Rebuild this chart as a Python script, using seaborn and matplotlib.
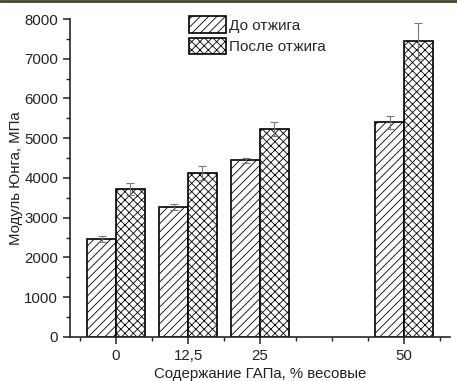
import numpy as np
import pandas as pd
import matplotlib.pyplot as plt
import seaborn as sns
from matplotlib.patches import Patch
from matplotlib.lines import Line2D
from matplotlib.ticker import MultipleLocator

# ─── data ─────────────────────────────────────────────────────────────────────
content = [0, 12.5, 25, 50]
tick_labels = ["0", "12,5", "25", "50"]
groups = ["До отжига", "После отжига"]
before_vals = [2470, 3270, 4440, 5400]
before_err = [80, 80, 70, 170]
after_vals = [3720, 4120, 5230, 7450]
after_err = [160, 170, 180, 450]

sns.set_style("ticks")
plt.rcParams["font.family"] = ["Liberation Sans", "DejaVu Sans"]
plt.rcParams["hatch.linewidth"] = 0.6

df = pd.DataFrame({
    "x": content * 2,
    "y": before_vals + after_vals,
    "err": before_err + after_err,
    "g": [groups[0]] * 4 + [groups[1]] * 4,
})

fig = plt.figure(figsize=(4.57, 3.81), dpi=100)
ax = fig.add_axes([0.153, 0.116, 0.832, 0.834])

sns.barplot(data=df, x="x", y="y", hue="g", hue_order=groups,
            native_scale=True, errorbar=None, ax=ax,
            palette=["white", "white"], edgecolor="black", linewidth=1.2,
            legend=False)

hatches = ["////", "xxxx"]
for cont, h, g in zip(ax.containers, hatches, groups):
    sub = df[df["g"] == g]
    xs, hs = [], []
    for bar in cont:
        bar.set_hatch(h)
        xs.append(bar.get_x() + bar.get_width() / 2)
        hs.append(bar.get_height())
    ax.errorbar(xs, hs, yerr=sub["err"].values, fmt="none", ecolor="#777777",
                elinewidth=0.8, capsize=3, capthick=0.8, zorder=5)

ax.set_xlim(-8, 58)
ax.set_ylim(0, 8000)
ax.set_xticks(content)
ax.set_xticklabels(tick_labels)
ax.xaxis.set_minor_locator(MultipleLocator(6.25))
ax.yaxis.set_major_locator(MultipleLocator(1000))
ax.yaxis.set_minor_locator(MultipleLocator(500))
ax.tick_params(which="major", length=5, width=1.1, labelsize=10.8, colors="#222222")
ax.tick_params(which="minor", length=3, width=1.0)
sns.despine(ax=ax)
for s in ["left", "bottom"]:
    ax.spines[s].set_linewidth(1.2)
ax.set_xlabel("Содержание ГАПа, % весовые", fontsize=10.8, color="#222222", labelpad=3)
ax.set_ylabel("Модуль Юнга, МПа", fontsize=10.8, color="#222222", labelpad=1)

handles = [Patch(facecolor="white", edgecolor="black", hatch=h, linewidth=1.2)
           for h in hatches]
ax.legend(handles, groups, loc="upper left", bbox_to_anchor=(0.39, 0.985),
          bbox_transform=fig.transFigure, frameon=False, fontsize=11,
          handlelength=2.4, handleheight=1.3, handletextpad=0.2,
          labelspacing=0.3, borderpad=0.2)

fig.add_artist(Line2D([0, 1], [0.997, 0.997], transform=fig.transFigure,
                      color="#3b4a2c", linewidth=2))

fig.savefig("out.png", dpi=100)
